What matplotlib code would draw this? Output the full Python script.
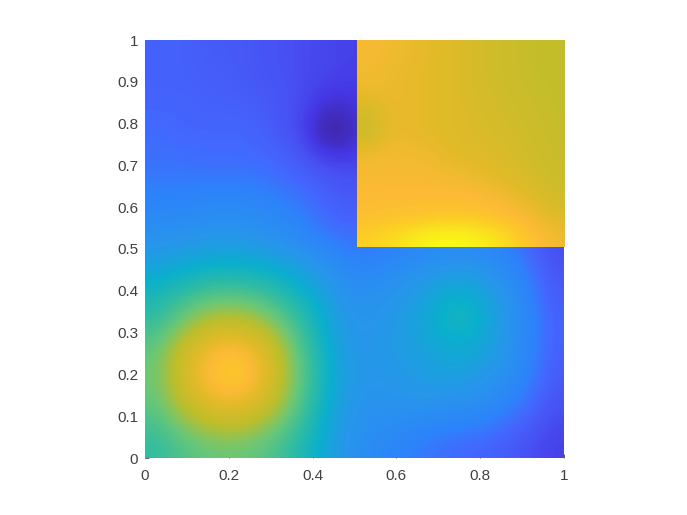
import numpy as np
import matplotlib
matplotlib.use("Agg")
import matplotlib.pyplot as plt
from matplotlib.colors import LinearSegmentedColormap
from matplotlib.patches import Rectangle

# values, as position on the colour scale (0-1)
# rows go bottom to top, cells are 0.05 wide
lower_left = [
    [.50,.54,.58,.60,.60,.58,.53,.46,.38,.30],
    [.53,.60,.66,.70,.70,.66,.59,.50,.40,.31],
    [.58,.67,.75,.80,.80,.76,.67,.54,.42,.32],
    [.60,.71,.81,.87,.88,.82,.71,.57,.44,.33],
    [.60,.72,.82,.88,.89,.83,.72,.57,.44,.33],
    [.57,.68,.77,.83,.83,.78,.68,.54,.42,.32],
    [.51,.59,.67,.72,.72,.68,.60,.50,.40,.31],
    [.46,.51,.57,.60,.60,.57,.51,.44,.37,.29],
    [.40,.43,.46,.48,.48,.46,.43,.38,.32,.26],
    [.33,.35,.37,.38,.38,.37,.34,.31,.27,.22],
]
lower_right = [
    [.25,.23,.21,.18,.16,.15,.14,.12,.09,.07],
    [.27,.26,.24,.22,.21,.20,.18,.15,.12,.08],
    [.28,.28,.28,.28,.27,.26,.24,.20,.15,.10],
    [.30,.30,.31,.32,.32,.31,.28,.24,.18,.12],
    [.30,.31,.32,.34,.36,.35,.32,.27,.20,.13],
    [.30,.31,.33,.36,.39,.39,.35,.28,.21,.14],
    [.29,.31,.33,.37,.43,.43,.36,.29,.21,.14],
    [.28,.29,.32,.36,.41,.41,.35,.28,.20,.13],
    [.25,.27,.29,.32,.35,.35,.31,.25,.18,.12],
    [.20,.22,.24,.26,.27,.27,.25,.21,.16,.10],
]
upper_left = [
    [.28,.29,.30,.31,.31,.29,.27,.24,.20,.17],
    [.24,.25,.25,.26,.26,.25,.23,.20,.16,.14],
    [.21,.21,.22,.22,.22,.21,.19,.17,.14,.12],
    [.18,.18,.18,.18,.18,.18,.16,.14,.12,.10],
    [.17,.17,.16,.16,.16,.15,.14,.11,.06,.05],
    [.16,.15,.15,.15,.15,.14,.12,.08,.00,.00],
    [.15,.15,.14,.14,.14,.13,.11,.08,.02,.02],
    [.14,.14,.14,.13,.13,.12,.11,.09,.06,.05],
    [.14,.14,.13,.13,.12,.11,.10,.09,.08,.07],
    [.14,.14,.13,.12,.12,.11,.10,.09,.08,.07],
]
# blue carried on under the yellow square so the edge stays smooth
under_square = [
    [.17,.19,.21,.23,.24,.24,.22,.18,.14,.09],
    [.14,.15,.16,.17,.17,.17,.16,.14,.11,.08],
    [.12,.12,.13,.13,.13,.13,.12,.11,.09,.07],
    [.10,.10,.10,.10,.10,.10,.10,.09,.08,.07],
    [.07,.08,.09,.09,.09,.09,.09,.08,.07,.07],
    [.05,.07,.08,.09,.09,.09,.09,.08,.07,.07],
    [.05,.07,.08,.09,.09,.09,.09,.08,.07,.07],
    [.06,.07,.08,.08,.08,.08,.08,.08,.07,.07],
    [.07,.07,.08,.08,.08,.08,.08,.08,.07,.07],
    [.07,.07,.08,.08,.08,.08,.08,.08,.07,.07],
]
square = [
    [.91,.93,.96,.99,1.0,.99,.96,.92,.87,.83],
    [.86,.87,.87,.88,.88,.88,.87,.85,.83,.79],
    [.85,.85,.85,.85,.85,.85,.84,.82,.79,.75],
    [.84,.84,.84,.84,.83,.82,.80,.78,.76,.74],
    [.83,.83,.83,.82,.80,.79,.78,.77,.75,.73],
    [.73,.81,.81,.80,.79,.78,.77,.76,.74,.73],
    [.75,.81,.81,.80,.79,.78,.76,.75,.74,.72],
    [.82,.82,.81,.80,.79,.77,.76,.74,.73,.72],
    [.83,.82,.81,.80,.79,.77,.75,.74,.72,.72],
    [.84,.83,.82,.80,.79,.77,.75,.74,.72,.72],
]
ticks = [0, .1, .2, .3, .4, .5, .6, .7, .8, .9, 1]
xticks = [0, .2, .4, .6, .8, 1]
ytick_labels = ["0", "0.1", "0.2", "0.3", "0.4", "0.5", "0.6", "0.7", "0.8", "0.9", "1"]
xtick_labels = ["0", "0.2", "0.4", "0.6", "0.8", "1"]

# parula
parula = LinearSegmentedColormap.from_list("parula", [
    (0.00, (0.242, 0.150, 0.660)),
    (0.05, (0.272, 0.214, 0.893)),
    (0.10, (0.281, 0.323, 0.958)),
    (0.15, (0.265, 0.403, 0.994)),
    (0.20, (0.179, 0.510, 0.985)),
    (0.30, (0.154, 0.590, 0.922)),
    (0.40, (0.040, 0.690, 0.800)),
    (0.50, (0.190, 0.740, 0.630)),
    (0.60, (0.420, 0.780, 0.460)),
    (0.70, (0.740, 0.745, 0.170)),
    (0.80, (0.890, 0.730, 0.160)),
    (0.85, (0.990, 0.730, 0.210)),
    (0.90, (0.990, 0.800, 0.150)),
    (1.00, (0.976, 0.984, 0.080)),
])

plt.rcParams["font.family"] = ["Liberation Sans", "DejaVu Sans"]
fig = plt.figure(figsize=(6.87, 5.15), dpi=100)
ax = fig.add_axes([145/687, 1-458/515, 419/687, 418/515])

base = np.vstack([np.hstack([lower_left, lower_right]),
                  np.hstack([upper_left, under_square])])
ax.imshow(base, origin="lower", extent=[0, 1, 0, 1], cmap=parula, vmin=0, vmax=1,
          interpolation="bicubic", zorder=3)
im = ax.imshow(np.array(square), origin="lower", extent=[.505, 1, .505, 1], cmap=parula, vmin=0, vmax=1,
               interpolation="bicubic", zorder=3)
im.set_clip_path(Rectangle((.505, .505), .495, .495, transform=ax.transData))

ax.set_xlim(0, 1)
ax.set_ylim(0, 1)
ax.set_aspect("auto")
for s in ax.spines.values():
    s.set_visible(False)
ax.set_xticks(xticks)
ax.set_xticklabels(xtick_labels)
ax.set_yticks(ticks)
ax.set_yticklabels(ytick_labels)
ax.tick_params(direction="in", length=3, width=0.5, color="#262626", labelcolor="#404040",
               labelsize=11, pad=5)
ax.tick_params(axis="x", pad=8)

fig.savefig("out.png", dpi=100)
